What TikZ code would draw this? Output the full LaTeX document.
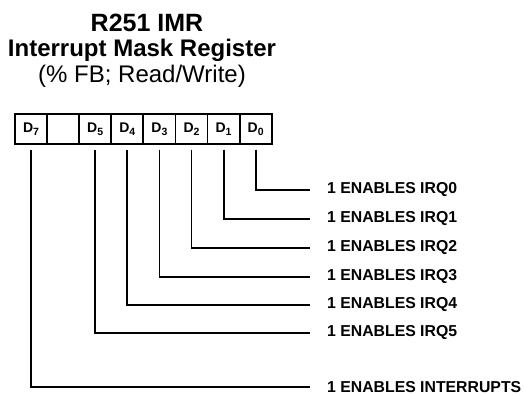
\documentclass[tikz,border=0pt]{standalone}
\usepackage{fontspec}
\setmainfont{Liberation Sans}
\usepackage{tikz}
\usetikzlibrary{positioning}
\newcommand{\regbit}[1]{D\raisebox{-2.5pt}{\fontsize{10.5}{10.5}\selectfont #1}}
\tikzset{
  heading/.style={anchor=base,inner sep=0pt,font=\fontsize{24}{26}\selectfont\bfseries},
  subheading/.style={anchor=base,inner sep=0pt,font=\fontsize{24}{26}\selectfont},
  bitcell/.style={draw,line width=1.8pt,minimum width=32.1pt,minimum height=30pt,
    inner sep=0pt,outer sep=0pt,font=\fontsize{14}{14}\selectfont\bfseries},
  bitnote/.style={anchor=west,inner sep=0pt,font=\fontsize{15.8}{18}\selectfont\bfseries},
  wire/.style={line width=1.8pt,shorten <=6pt,shorten >=17pt}
}
\begin{document}
\begin{tikzpicture}[x=1pt,y=-1pt]
  \useasboundingbox (0,0) rectangle (525,395);
  \node[heading] (title) at (147,32) {\fontsize{25}{27}\selectfont R251 IMR};
  \node[heading] (name) at (142,57) {Interrupt Mask Register};
  \node[subheading] (access) at (142,83) {(\% FB; Read/Write)};
  % register cells
  \node[bitcell] (b7) at (31,129) {\regbit{7}};
  \node[bitcell,right=0pt of b7] (b6) {};
  \node[bitcell,right=0pt of b6] (b5) {\regbit{5}};
  \node[bitcell,right=0pt of b5] (b4) {\regbit{4}};
  \node[bitcell,right=0pt of b4] (b3) {\regbit{3}};
  \node[bitcell,right=0pt of b3] (b2) {\regbit{2}};
  \node[bitcell,right=0pt of b2] (b1) {\regbit{1}};
  \node[bitcell,right=0pt of b1] (b0) {\regbit{0}};
  % bit meanings
  \node[bitnote] (irq0) at (327,190) {1 ENABLES IRQ0};
  \node[bitnote] (irq1) at (327,219) {1 ENABLES IRQ1};
  \node[bitnote] (irq2) at (327,248) {1 ENABLES IRQ2};
  \node[bitnote] (irq3) at (327,277) {1 ENABLES IRQ3};
  \node[bitnote] (irq4) at (327,305) {1 ENABLES IRQ4};
  \node[bitnote] (irq5) at (327,333) {1 ENABLES IRQ5};
  \node[bitnote] (inten) at (327,387) {1 ENABLES INTERRUPTS};
  \draw[wire] (b0.south) |- (irq0.west);
  \draw[wire] (b1.south) |- (irq1.west);
  \draw[wire] (b2.south) |- (irq2.west);
  \draw[wire] (b3.south) |- (irq3.west);
  \draw[wire] (b4.south) |- (irq4.west);
  \draw[wire] (b5.south) |- (irq5.west);
  \draw[wire] (b7.south) |- (inten.west);
\end{tikzpicture}
\end{document}
